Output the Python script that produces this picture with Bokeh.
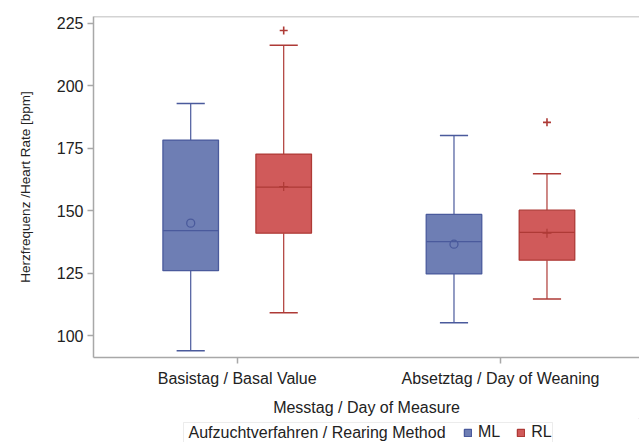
from bokeh.plotting import figure
from bokeh.layouts import column
from bokeh.models import (Range1d, FixedTicker, Legend, LegendItem, Span, ColumnDataSource,
                          Label, BoxAnnotation)
from bokeh.embed import file_html
from bokeh.resources import INLINE

# ---- data ----
days = ["Basistag / Basal Value", "Absetztag / Day of Weaning"]
groups = ["ML", "RL"]
legend_title = "Aufzuchtverfahren / Rearing Method"

ml_lower = [94.0, 105.2]
ml_q1 = [126.0, 124.7]
ml_median = [142.0, 137.6]
ml_q3 = [178.2, 148.5]
ml_upper = [192.8, 180.0]
ml_mean = [145.0, 136.6]

rl_lower = [109.2, 114.7]
rl_q1 = [141.0, 130.2]
rl_median = [159.4, 141.3]
rl_q3 = [172.6, 150.2]
rl_upper = [216.1, 164.7]
rl_mean = [159.6, 141.0]

rl_outlier_day = [0, 1]
rl_outlier_val = [222.0, 185.3]

y_ticks = [100, 125, 150, 175, 200, 225]

# ---- styling ----
FONT = "Liberation Sans"
ML_FILL, ML_LINE = "#6e7eb4", "#4a5a9c"
RL_FILL, RL_LINE = "#d05a5a", "#ae3a36"
FRAME = "#a8a8a8"
TEXT = "#222222"
LEFT = 93  # frame left edge (pixels)

p = figure(width=639, height=418, output_backend="svg", toolbar_location=None,
           x_range=Range1d(-0.5458, 1.528), y_range=Range1d(91.3, 227.6),
           min_border_left=LEFT, min_border_top=16, min_border_right=0, min_border_bottom=56)
p.outline_line_color = None
p.xgrid.grid_line_color = None
p.ygrid.grid_line_color = None
p.background_fill_color = "white"
p.border_fill_color = "white"

offset = 0.1766
bw = 0.211
cw = 0.107


def draw_group(idx_offset, lower, q1, med, q3, upper, mean, fill, line, mean_marker):
    xs = [i + idx_offset for i in range(len(days))]
    src = ColumnDataSource(dict(x=xs, lower=lower, q1=q1, med=med, q3=q3, upper=upper,
                                mean=mean, cl=[x - cw / 2 for x in xs], cr=[x + cw / 2 for x in xs],
                                bl=[x - bw / 2 for x in xs], br=[x + bw / 2 for x in xs]))
    p.segment(x0="x", y0="q3", x1="x", y1="upper", source=src, line_color=line, line_width=1.2)
    p.segment(x0="x", y0="lower", x1="x", y1="q1", source=src, line_color=line, line_width=1.2)
    p.segment(x0="cl", y0="upper", x1="cr", y1="upper", source=src, line_color=line, line_width=1.5)
    p.segment(x0="cl", y0="lower", x1="cr", y1="lower", source=src, line_color=line, line_width=1.5)
    box = p.vbar(x="x", width=bw, bottom="q1", top="q3", source=src,
                 fill_color=fill, line_color=line, line_width=1.3)
    p.segment(x0="bl", y0="med", x1="br", y1="med", source=src, line_color=line, line_width=1.3)
    if mean_marker == "circle":
        p.scatter(x="x", y="mean", source=src, marker="circle", size=8,
                  fill_color=None, line_color=line, line_width=1.3)
    else:
        p.scatter(x="x", y="mean", source=src, marker="cross", size=9,
                  line_color=line, line_width=1.2)
    return box


draw_group(-offset, ml_lower, ml_q1, ml_median, ml_q3, ml_upper, ml_mean, ML_FILL, ML_LINE, "circle")
draw_group(offset, rl_lower, rl_q1, rl_median, rl_q3, rl_upper, rl_mean, RL_FILL, RL_LINE, "cross")

p.scatter(x=[d + offset for d in rl_outlier_day], y=rl_outlier_val, marker="cross",
          size=8, line_color=RL_LINE, line_width=1.6)

# top frame line
p.add_layout(Span(location=227.6, dimension="width", line_color=FRAME, line_width=1.5))

# axes
for ax in (p.xaxis[0], p.yaxis[0]):
    ax.axis_line_color = FRAME
    ax.axis_line_width = 1.5
    ax.major_tick_line_color = FRAME
    ax.major_tick_line_width = 1.5
    ax.major_tick_out = 6
    ax.major_tick_in = 0
    ax.minor_tick_line_color = None
    ax.major_label_text_font = FONT
    ax.major_label_text_font_size = "16px"
    ax.major_label_text_color = TEXT
    ax.axis_label_text_font = FONT
    ax.axis_label_text_font_style = "normal"
    ax.axis_label_text_color = TEXT

p.xaxis.ticker = FixedTicker(ticks=list(range(len(days))))
p.xaxis.major_label_overrides = {i: d for i, d in enumerate(days)}
p.xaxis.axis_label = "Messtag / Day of Measure"
p.xaxis.axis_label_text_font_size = "16px"
p.xaxis.major_label_standoff = 6
p.xaxis.axis_label_standoff = 9

p.yaxis.ticker = FixedTicker(ticks=y_ticks)
p.yaxis.axis_label = "Herzfrequenz /Heart Rate [bpm]"
p.yaxis.axis_label_text_font_size = "13.5px"
p.yaxis.major_label_standoff = 4
p.yaxis.axis_label_standoff = 21

# ---- legend strip below the chart (its frame is aligned with the chart's frame) ----
lg = figure(width=639, height=24, output_backend="svg", toolbar_location=None,
            x_range=Range1d(0, 1), y_range=Range1d(0, 1),
            x_axis_location=None, y_axis_location=None,
            min_border_left=LEFT, min_border_right=0, min_border_top=0, min_border_bottom=0)
lg.outline_line_color = None
lg.xgrid.grid_line_color = None
lg.ygrid.grid_line_color = None
lg.background_fill_color = "white"
lg.border_fill_color = "white"

# key glyphs (placed outside the visible range; only their legend swatches show)
ml_key = lg.vbar(x=[5], top=[5], bottom=[4], width=0.1, fill_color=ML_FILL,
                 line_color=ML_LINE, line_width=1.3)
rl_key = lg.vbar(x=[5], top=[5], bottom=[4], width=0.1, fill_color=RL_FILL,
                 line_color=RL_LINE, line_width=1.3)

lg.add_layout(BoxAnnotation(left=183 - LEFT, right=552 - LEFT, top=20, bottom=-6,
                            left_units="screen", right_units="screen",
                            top_units="screen", bottom_units="screen",
                            fill_color=None, fill_alpha=0, line_color="#c0c0c0", line_width=1))
lg.add_layout(Label(x=188 - LEFT, y=10, x_units="screen", y_units="screen", text=legend_title,
                    text_font=FONT, text_font_size="16px", text_color=TEXT,
                    text_baseline="middle", text_align="left"))

legend = Legend(items=[LegendItem(label=groups[0], renderers=[ml_key]),
                       LegendItem(label=groups[1], renderers=[rl_key])],
                orientation="horizontal", location=(463 - LEFT, 1))
legend.label_text_font = FONT
legend.label_text_font_size = "16px"
legend.label_text_color = TEXT
legend.glyph_width = 9
legend.glyph_height = 9
legend.label_standoff = 6
legend.spacing = 16
legend.padding = 0
legend.margin = 0
legend.label_height = 18
legend.border_line_color = None
legend.background_fill_alpha = 0
lg.add_layout(legend)

layout = column(p, lg, spacing=0)
open("out.html", "w").write(file_html(layout, INLINE))
